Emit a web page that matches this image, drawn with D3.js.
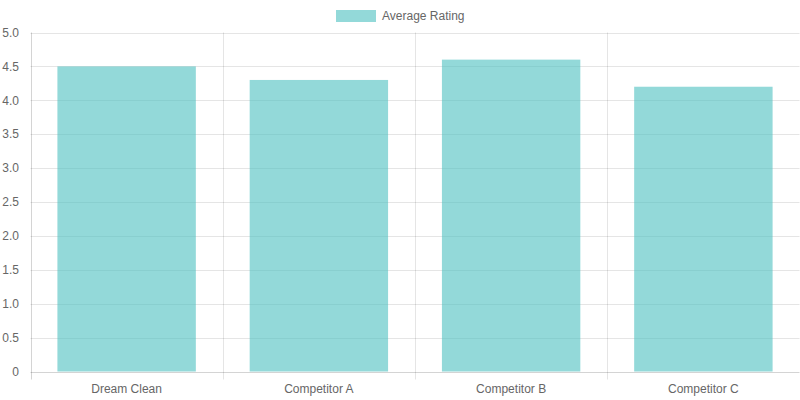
<!DOCTYPE html>
<html><head><meta charset="utf-8">
<script src="https://cdn.jsdelivr.net/npm/d3@7"></script>
<style>body{margin:0;background:#fff}svg{display:block}text{font-family:"Liberation Sans",Arial,sans-serif;font-size:12px;fill:#666}</style>
</head><body><svg id="c" width="800" height="400"></svg>
<script>
const categories = ["Dream Clean", "Competitor A", "Competitor B", "Competitor C"];
const ratings = [4.5, 4.3, 4.6, 4.2];
const yTicks = [0, 0.5, 1.0, 1.5, 2.0, 2.5, 3.0, 3.5, 4.0, 4.5, 5.0];
const seriesName = "Average Rating";

const svg = d3.select("#c");
const m = {l: 30.5, r: 799.5, t: 32.5, b: 371.5};
const x = d3.scaleBand().domain(categories).range([m.l, m.r]).paddingInner(0).paddingOuter(0);
const y = d3.scaleLinear().domain([0, 5]).range([m.b, m.t]);
const grid = "rgba(0,0,0,0.1)";
const axis = "rgba(0,0,0,0.17)";

// horizontal grid
svg.append("g").selectAll("line").data(yTicks).join("line")
  .attr("x1", m.l).attr("x2", m.r)
  .attr("y1", d => Math.round(y(d)) + 0.5).attr("y2", d => Math.round(y(d)) + 0.5)
  .attr("stroke", d => d === 0 ? axis : grid);
// vertical grid
const vx = categories.map(c => x(c)).concat([m.r]);
svg.append("g").selectAll("line").data(vx).join("line")
  .attr("x1", d => Math.round(d) + 0.5).attr("x2", d => Math.round(d) + 0.5)
  .attr("y1", m.t).attr("y2", m.b + 8)
  .attr("stroke", (d, i) => i === 0 ? axis : grid);

// y labels
svg.append("g").selectAll("text").data(yTicks).join("text")
  .attr("x", 19).attr("y", d => y(d)).attr("dy", "0.35em").attr("text-anchor", "end")
  .text(d => d === 0 ? "0" : d.toFixed(1));

// x labels
svg.append("g").selectAll("text").data(categories).join("text")
  .attr("x", d => x(d) + x.bandwidth() / 2).attr("y", 389).attr("dy", "0.35em").attr("text-anchor", "middle")
  .text(d => d);

// bars
const bw = x.bandwidth() * 0.72;
svg.append("g").selectAll("rect").data(categories).join("rect")
  .attr("x", (d) => x(d) + (x.bandwidth() - bw) / 2)
  .attr("width", bw)
  .attr("y", (d, i) => y(ratings[i]))
  .attr("height", (d, i) => y(0) - y(ratings[i]))
  .attr("fill", "rgba(75,192,192,0.6)");

// legend
const lg = svg.append("g");
lg.append("rect").attr("x", 336).attr("y", 10).attr("width", 40).attr("height", 12).attr("fill", "rgba(75,192,192,0.6)");
lg.append("text").attr("x", 382).attr("y", 16).attr("dy", "0.35em").text(seriesName);
</script></body></html>
